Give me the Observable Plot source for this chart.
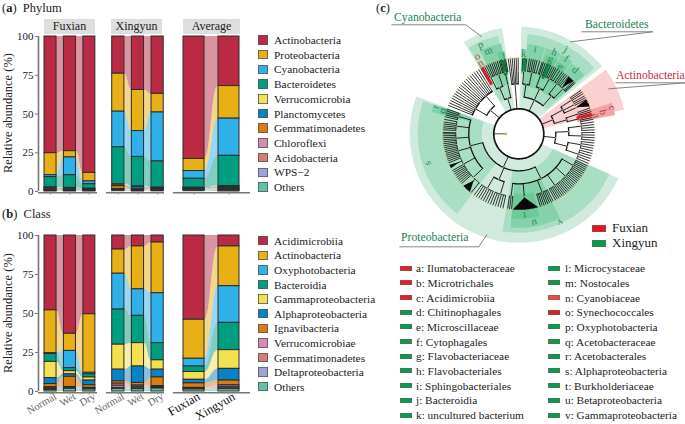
<!DOCTYPE html>
<html><head><meta charset="utf-8">
<script src="https://cdn.jsdelivr.net/npm/d3@7"></script>
<script src="https://cdn.jsdelivr.net/npm/@observablehq/plot@0.6"></script>
<style>
html,body{margin:0;padding:0;background:#fff;}
#page{position:relative;width:685px;height:424px;overflow:hidden;font-family:"Liberation Serif",serif;color:#222;}
#page>div{position:absolute;white-space:nowrap;}
</style></head><body><div id="page"></div>
<script>
// ---------- categories ----------
const phylumCats=["Actinobacteria","Proteobacteria","Cyanobacteria","Bacteroidetes","Verrucomicrobia","Planctomycetes","Gemmatimonadetes","Chloroflexi","Acidobacteria","WPS\u22122","Others"];
const classCats=["Acidimicrobiia","Actinobacteria","Oxyphotobacteria","Bacteroidia","Gammaproteobacteria","Alphaproteobacteria","Ignavibacteria","Verrucomicrobiae","Gemmatimonadetes","Deltaproteobacteria","Others"];
const palette=["#bb2a45","#e8b016","#2eb0e8","#009e80","#f4e050","#0683c6","#da7c0e","#d68cb2","#d57d74","#a0a4d4","#60c2a8"];
const seasons=["Normal","Wet","Dry"];
const lakes=["Fuxian","Xingyun"];
// ---------- phylum values ----------
const pFuxianNormal=[75.3,14.2,1.2,6.7,0.3,0.3,0.8,0.3,0.2,0.2,0.5];
const pFuxianWet=[74,4,11.5,8.2,0.3,0.8,0.2,0.2,0.2,0.2,0.4];
const pFuxianDry=[88,5.5,1.8,2.9,0.2,0.5,0.2,0.2,0.1,0.1,0.5];
const pXingyunNormal=[24,24.5,23,23.8,0.8,0.5,1.8,0.3,0.2,0.2,0.7];
const pXingyunWet=[34.5,26.5,16.7,19,0.5,1.3,0.4,0.2,0.2,0.2,0.5];
const pXingyunDry=[37,12,31.6,16.9,0.3,0.3,0.3,0.3,0.3,0.3,0.6];
const pAverageFuxian=[79,7.8,5,5.8,0.2,0.3,0.4,0.2,0.2,0.2,0.7];
const pAverageXingyun=[32,21,24,19.5,0.5,0.5,0.7,0.4,0.4,0.3,0.7];
// ---------- class values ----------
const cFuxianNormal=[48,27.4,0.6,5,10.5,3.7,2,0.7,0.6,0.5,1];
const cFuxianWet=[63,11,11,2,2,1.6,6.5,0.5,0.4,0.3,1.7];
const cFuxianDry=[50.5,37.5,1,2,2,3,1.7,0.4,0.3,0.3,1.3];
const cXingyunNormal=[9,15.5,23,22.5,16,7.5,1.5,1.3,1.5,0.5,1.7];
const cXingyunWet=[7,27.5,17,17.5,15,10.5,1.7,0.8,1,0.5,1.5];
const cXingyunDry=[4.5,32.5,32,11,6,5,5.5,0.6,0.5,0.5,1.9];
const cAverageFuxian=[54,25,5,3.5,5,2.3,2.9,0.4,0.3,0.3,1.3];
const cAverageXingyun=[7,25.5,23.5,17.5,12,7.5,3,1,1,0.5,1.5];
// ---------- cladogram (angles clockwise from north) ----------
const treeBacteroidetes=[[[3,4,5,6],[8,9.5,11,12.5,14,16]],[[18,19,20.5,22,23],[25,26.5,28,29.5,31,33]],[[35,36.5,38,39.5],[41,43.5,46,47,48]]];
const treeActinobacteria=[[[55,56.5,58,60],[61.5,63],[65.5]],[[70,71.5,73],[74.5,76,77.5]]];
const treeEast=[[[79,81,83,85,87],[89,91,93,95]],[[97,99,101,103],[105,107,109,111,113]]];
const treeProteobacteria=[
 [[115,116.5,118,119.5,121,122.5,124,125.5],[127,128.5,130,131.5,133,134.5,136,137.5],[139,140.5,142,143.5,145,146.5,148,149.5,151],[153,154.5,156,157.5,159,160.5,162,163.5],[175],[185.5,187,188.5]],
 [[192,194,196,198,200,202],[204,206,208,210,212,214,216]],
 [[219,224,229,230.5,232,233.5],[235,236.5,238,239.5,241,244.5,247.5],[249,250.5,252,253.5,255,256.5,258,259.5],[261,262.5,264,265.5,267,268.5,270,271],[273,274.5,276,277.5,279,281],[283,284.5,286,287.5,289]]];
const treeWest=[[292,294,296,298,300,302,304,306,308],[310,312,314,316,318,320,322,324,326,328]];
const treeCyanobacteria=[[[330,331.5,333,334.5,336,337.5],[339,340.5,342,343.5]],[[345,346,347,348,349,350]]];
const treeNorth=[[352,353.5,355,356.5,358,359.5]];
const cladeTrees=[treeBacteroidetes,treeActinobacteria,treeEast,treeProteobacteria,treeWest,treeCyanobacteria,treeNorth];
const blackFans=[[165,184.5,175,64],[220,227,224,65],[243,246,244.7,66],[41,46,43,63],[63,69,65,63]];
const ringRadii=[25,37,50,63,76];
// [name, from angle, to angle, inner radius, outer radius, colour]
const sectors=[
 ["Proteobacteria",114,290,25,109,"#d0ebde"],
 ["Bacteroidetes",1.4,51,25,107,"#d0ebde"],
 ["Cyanobacteria",329,351,25,107,"#d0ebde"],
 ["Actinobacteria",53.6,77,25,108,"#fbd0d3"],
 ["s",217.6,289,37,101,"#a8dec4"],
 ["v",114,189.5,37,99,"#a8dec4"],
 ["j",5,49,37,100,"#a8dec4"],
 ["p",330,348,37,100,"#a8dec4"],
 ["c",71.5,79,60,98,"#f6a3a8"],
 ["r",284,289,50,90,"#84d2ab"],
 ["q",284,289,60,82,"#6cc99a"],
 ["u",154,185,50,94,"#84d2ab"],
 ["t",166,185,60,85,"#6cc99a"],
 ["i",5.5,17,48,90,"#84d2ab"],
 ["h",17.6,27.6,48,90,"#84d2ab"],
 ["g",19,27.6,60,83,"#6cc99a"],
 ["f",28.2,36.5,48,90,"#84d2ab"],
 ["e",28.2,35.5,60,82,"#6cc99a"],
 ["d",37,48,50,88,"#84d2ab"],
 ["m",335,349,50,92,"#84d2ab"],
 ["l",345,350,60,84,"#6cc99a"],
 ["k",2,5,60,85,"#84d2ab"],
 ["o",329.5,335,50,88,"#b9e3c9"]
];
const cladeLetters=["a","b","c","d","e","f","g","h","i","j","k","l","m","n","o","p","q","r","s","t","u","v"];
const letterAngles=[76.7,75.7,74.5,41.4,31.7,32.4,23,23.6,11,29,3.5,349,339.8,331.6,331.8,336.7,287,288,252,176,170,155];
const letterRadii=[80,87,97,85.5,79,89,81.5,89,86.5,97,80.5,78,88.5,80.5,88,97,80,87.5,96,82,90.5,98];
const letterColors=["#a8404f","#a8404f","#a8404f","#2c8a5c","#2c8a5c","#2c8a5c","#2c8a5c","#2c8a5c","#2c8a5c","#2c8a5c","#2c8a5c","#2c8a5c","#2c8a5c","#b2492f","#b2492f","#2c8a5c","#2c8a5c","#2c8a5c","#2c8a5c","#2c8a5c","#2c8a5c","#2c8a5c"];
const highlightLeaves=[[4.5,63,76,"#0a8a4a",3],[23.5,60,76,"#0a8a4a",2.6],[347.5,60,76,"#0a7a44",3],[75,60,76,"#d8202c",3],[331,56,76,"#d8202c",3]];
const calloutNames=["Cyanobacteria","Bacteroidetes","Actinobacteria","Proteobacteria"];
const calloutColors=["#1f8056","#1f8056","#c62a3e","#1f8056"];
const calloutPathsX=[[-127,-53,-37],[63,134,52],[97,167,90],[-119,-40,-32]];
const calloutPathsY=[[109,109,97],[102,102,92],[51,51,45],[-113,-113,-101]];
const calloutTextX=[-91,98,131.5,-84];
const calloutTextY=[117,110,59,-103];
const treeLegendNames=["a: Ilumatobacteraceae","b: Microtrichales","c: Acidimicrobiia","d: Chitinophagales","e: Microscillaceae","f: Cytophagales","g: Flavobacteriaceae","h: Flavobacteriales","i: Sphingobacteriales","j: Bacteroidia","k: uncultured bacterium","l: Microcystaceae","m: Nostocales","n: Cyanobiaceae","o: Synechococcales","p: Oxyphotobacteria","q: Acetobacteraceae","r: Acetobacterales","s: Alphaproteobacteria","t: Burkholderiaceae","u: Betaproteobacteria","v: Gammaproteobacteria"];
const treeLegendColors=["#e0202c","#e0202c","#e0202c","#0d9a4c","#0d9a4c","#0d9a4c","#0d9a4c","#0d9a4c","#0d9a4c","#0d9a4c","#0d9a4c","#0d9a4c","#0d9a4c","#e8503c","#d82020","#0d9a4c","#0d9a4c","#0d9a4c","#0d9a4c","#0d9a4c","#0d9a4c","#0d9a4c"];

const page=document.getElementById("page");
const SERIF='"Liberation Serif",serif';
function html(left,top,text,css=""){
  const d=document.createElement("div");
  d.style.cssText=`left:${left}px;top:${top}px;${css}`;
  d.innerHTML=text;page.appendChild(d);return d;
}
function place(node,left,top){
  const d=document.createElement("div");
  d.style.cssText=`left:${left}px;top:${top}px;`;
  d.appendChild(node);page.appendChild(d);
}
function stackRows(samples,cats){
  const rows=[];
  samples.forEach((vals,i)=>{let top=100;vals.forEach((v,k)=>{rows.push({i,cat:cats[k],k,y2:top,y1:top-v});top-=v;});});
  return rows;
}
function stackedPanel({samples,cats,labels,hw,xdom,left,top,pxH,yAxis,bottom,labelSize,labelFill}){
  const rows=stackRows(samples,cats);
  const flows=[];
  for(let i=0;i<samples.length-1;i++){
    cats.forEach((c,k)=>{
      const a=rows.find(r=>r.i===i&&r.k===k),b=rows.find(r=>r.i===i+1&&r.k===k);
      flows.push({id:i+"-"+k,cat:c,x:i+hw,y1:a.y1,y2:a.y2});
      flows.push({id:i+"-"+k,cat:c,x:i+1-hw,y1:b.y1,y2:b.y2});
    });
  }
  const mL=32,mT=6,mR=4,mB=bottom;
  const span=xdom[2];
  const tickVals=samples.map((_,i)=>i);
  const plot=Plot.plot({
    width:mL+mR+span,height:mT+pxH+mB,marginLeft:mL,marginRight:mR,marginTop:mT,marginBottom:mB,
    style:{fontFamily:SERIF,background:"transparent",overflow:"visible"},
    x:{domain:[xdom[0],xdom[1]],axis:null},
    y:{domain:[0,100],axis:null},
    color:{domain:cats,range:palette},
    marks:[
      Plot.area(flows,{x1:"x",y1:"y1",y2:"y2",z:"id",fill:"cat",fillOpacity:0.5,curve:"bump-x"}),
      Plot.rect(rows,{x1:d=>d.i-hw,x2:d=>d.i+hw,y1:"y1",y2:"y2",fill:"cat",stroke:"#2c2c2c",strokeWidth:1}),
      Plot.ruleY([0],{stroke:"#777",strokeWidth:1.6,dy:1.2}),
      Plot.axisX({ticks:tickVals,tickSize:2.5,stroke:"#888",dy:1,tickFormat:()=>"",label:null}),
      ...(labels?[Plot.axisX({ticks:tickVals,tickSize:0,tickRotate:-30,tickPadding:3,dx:5,dy:1,
        tickFormat:i=>labels[i],fontSize:labelSize,fill:labelFill,label:null})]:[]),
      ...(yAxis?[
        Plot.ruleX([xdom[0]],{y1:0,y2:100,stroke:"#777",strokeWidth:1.6}),
        Plot.axisY({ticks:[0,25,50,75,100],tickSize:3,tickPadding:2,stroke:"#777",fill:"#222",fontSize:11,label:null})
      ]:[])
    ]
  });
  place(plot,left-mL,top-mT);
}
// ---- headers and titles
html(2,1,'(<b>a</b>)&nbsp; Phylum','font-size:12.5px;');
html(2,207,'(<b>b</b>)&nbsp; Class','font-size:12.5px;');
html(376,1,'(<b>c</b>)','font-size:12.5px;');
[["Fuxian",44,51],["Xingyun",111,51],["Average",183,57]].forEach(([t,l,w])=>{
  html(l,19,t,`width:${w}px;height:15px;line-height:15px;background:#dedede;text-align:center;font-size:12px;`);
});
[[112.5],[313]].forEach(([cy])=>{
  html(8,cy,"Relative abundance (%)","font-size:12.5px;transform:translate(-50%,-50%) rotate(-90deg);");
});
// ---- panel a
stackedPanel({samples:[pFuxianNormal,pFuxianWet,pFuxianDry],cats:phylumCats,hw:0.31,xdom:[-0.62,2.42,59],left:38,top:36,pxH:155,yAxis:true,bottom:14});
stackedPanel({samples:[pXingyunNormal,pXingyunWet,pXingyunDry],cats:phylumCats,hw:0.31,xdom:[-0.6,2.35,58],left:105.5,top:36,pxH:155,bottom:14});
stackedPanel({samples:[pAverageFuxian,pAverageXingyun],cats:phylumCats,hw:0.3,xdom:[-0.586,1.614,77],left:173,top:36,pxH:155,bottom:14});
// ---- panel b
stackedPanel({samples:[cFuxianNormal,cFuxianWet,cFuxianDry],cats:classCats,labels:seasons,hw:0.31,xdom:[-0.62,2.42,59],left:38,top:235,pxH:156,yAxis:true,bottom:32,labelSize:10.5,labelFill:"#666"});
stackedPanel({samples:[cXingyunNormal,cXingyunWet,cXingyunDry],cats:classCats,labels:seasons,hw:0.31,xdom:[-0.6,2.35,58],left:105.5,top:235,pxH:156,bottom:32,labelSize:10.5,labelFill:"#666"});
stackedPanel({samples:[cAverageFuxian,cAverageXingyun],cats:classCats,labels:lakes,hw:0.3,xdom:[-0.586,1.614,77],left:173,top:235,pxH:156,bottom:32,labelSize:12.5,labelFill:"#111"});
// ---- legends a / b
function barLegend(cats,y0,step){
  cats.forEach((c,i)=>{
    const y=y0+i*step;
    html(258,y-4.8,"",`width:9.6px;height:9.6px;background:${palette[i]};box-shadow:inset 0 0 0 .8px #555;`);
    html(274,y-7,c,"font-size:11.4px;line-height:14px;");
  });
}
barLegend(phylumCats,40,14.7);
barLegend(classCats,240.7,14.6);
// ---- cladogram
const rad=Math.PI/180;
const px=(a,r)=>r*Math.sin(a*rad),py=(a,r)=>r*Math.cos(a*rad);
function arcPts(a0,a1,r,id,extra={}){
  const n=Math.max(2,Math.ceil(Math.abs(a1-a0)/2));
  return d3.range(n+1).map(j=>{const a=a0+(a1-a0)*j/n;return {id,x:px(a,r),y:py(a,r),...extra};});
}
const sectorPts=sectors.flatMap(([name,a0,a1,r0,r1,col])=>[
  ...arcPts(a0,a1,r1,name,{col}),...arcPts(a1,a0,r0,name,{col})]);
const stems=[],arcs=[],nodes=[],leaves=[];
function walk(node,lvl){
  if(typeof node==="number"){
    leaves.push({a:node,r0:ringRadii[lvl],r1:ringRadii[4]});
    if(Math.round(node)%3===0)nodes.push({a:node,r:ringRadii[4]});
    if(lvl<3&&Math.round(node)%4===0)nodes.push({a:node,r:ringRadii[3]});
    return node;
  }
  const kids=node.map(k=>walk(k,lvl+1));
  const a0=d3.min(kids),a1=d3.max(kids),mid=(a0+a1)/2;
  if(a1>a0)arcs.push({a0,a1,lvl:lvl+1});
  stems.push({a:mid,r0:ringRadii[lvl],r1:ringRadii[lvl+1],lvl});
  nodes.push({a:mid,r:ringRadii[lvl+1]});
  return mid;
}
cladeTrees.forEach(t=>walk(t,0));
const arcPoints=arcs.flatMap((d,i)=>arcPts(d.a0,d.a1,ringRadii[d.lvl],"arc"+i,{w:d.lvl<=2?1.3:0.8}));
const fanPts=blackFans.flatMap(([a0,a1,am,rIn],i)=>[
  {id:i,x:px(am,rIn),y:py(am,rIn)},...arcPts(a0,a1,76,i)]);
const circlePts=arcPts(0,360,25,"c");
const callouts=calloutNames.flatMap((n,i)=>calloutPathsX[i].map((x,j)=>({id:n,x,y:calloutPathsY[i][j]})));
const cladePlot=Plot.plot({
  width:310,height:260,margin:0,
  style:{fontFamily:SERIF,background:"transparent",overflow:"visible"},
  x:{domain:[-143.3,166.7],axis:null},
  y:{domain:[-126.7,133.3],axis:null},
  marks:[
    Plot.line(sectorPts,{x:"x",y:"y",z:"id",fill:"col",stroke:"none",strokeWidth:0}),
    Plot.line(circlePts,{x:"x",y:"y",fill:"#fff",stroke:"#111",strokeWidth:1.7}),
    Plot.link(leaves,{x1:d=>px(d.a,d.r0),y1:d=>py(d.a,d.r0),x2:d=>px(d.a,d.r1),y2:d=>py(d.a,d.r1),stroke:"#111",strokeWidth:0.85}),
    Plot.link(stems,{x1:d=>px(d.a,d.r0),y1:d=>py(d.a,d.r0),x2:d=>px(d.a,d.r1),y2:d=>py(d.a,d.r1),stroke:"#111",strokeWidth:0.9}),
    Plot.line(arcPoints,{x:"x",y:"y",z:"id",stroke:"#111",strokeWidth:"w"}),
    Plot.line(fanPts,{x:"x",y:"y",z:"id",fill:"#0a0a0a",stroke:"none",strokeWidth:0}),
    Plot.link(highlightLeaves,{x1:d=>px(d[0],d[1]),y1:d=>py(d[0],d[1]),x2:d=>px(d[0],d[2]),y2:d=>py(d[0],d[2]),stroke:d=>d[3],strokeWidth:d=>d[4]}),
    Plot.link([[270,25,13]],{x1:d=>px(d[0],d[1]),y1:d=>py(d[0],d[1]),x2:d=>px(d[0],d[2]),y2:d=>py(d[0],d[2]),stroke:"#222",strokeWidth:0.8}),
    Plot.dot(nodes,{x:d=>px(d.a,d.r),y:d=>py(d.a,d.r),r:0.75,fill:"#c9b64a"}),
    Plot.dot([[270,13]],{x:d=>px(d[0],d[1]),y:d=>py(d[0],d[1]),r:1.5,fill:"#d4bf3a"}),
    Plot.text(cladeLetters,{x:(d,i)=>px(letterAngles[i],letterRadii[i]),y:(d,i)=>py(letterAngles[i],letterRadii[i]),text:d=>d,fill:(d,i)=>letterColors[i],rotate:(d,i)=>letterAngles[i],fontSize:10.5}),
    Plot.line(callouts,{x:"x",y:"y",z:"id",stroke:"#777",strokeWidth:0.9}),
    Plot.text(calloutNames,{x:(d,i)=>calloutTextX[i],y:(d,i)=>calloutTextY[i],text:d=>d,fill:(d,i)=>calloutColors[i],fontSize:11.7})
  ]
});
place(cladePlot,375,0);
// ---- legends c
[["Fuxian","#e6151f",228],["Xingyun","#089a48",243]].forEach(([t,c,y])=>{
  html(592,y-3.5,"",`width:14px;height:7px;background:${c};box-shadow:inset 0 0 0 .5px #666;`);
  html(612,y-8,t,"font-size:13px;line-height:16px;");
});
treeLegendNames.forEach((t,i)=>{
  const col=i<11?0:1,row=i<11?i:i-11,y=268.3+row*14.67;
  const sx=col?548:400,tx=col?565:416;
  html(sx,y-2.5,"",`width:11.5px;height:5px;background:${treeLegendColors[i]};box-shadow:inset 0 0 0 .4px #666;`);
  html(tx,y-7,t,"font-size:11.3px;line-height:14px;");
});
</script></body></html>
